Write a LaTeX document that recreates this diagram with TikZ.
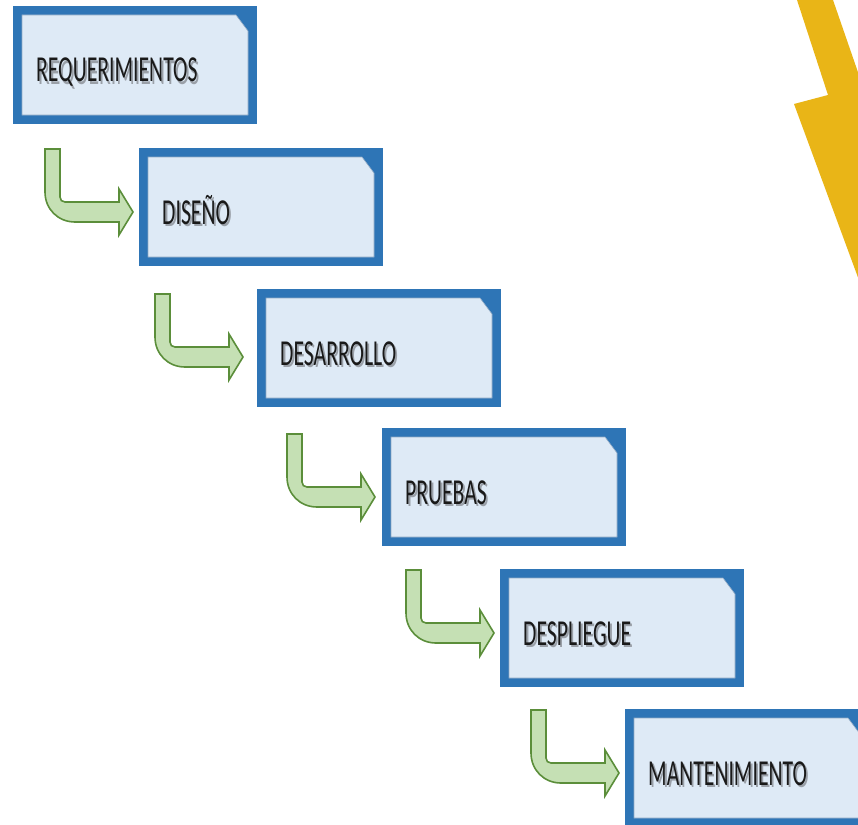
\documentclass[tikz,border=0pt]{standalone}
\usepackage{fontspec}
\setmainfont{Carlito}
\usetikzlibrary{calc}
\definecolor{boxblue}{HTML}{2E75B6}
\definecolor{boxfillc}{HTML}{DEEAF6}
\definecolor{edgeblue}{HTML}{8FA9C4}
\definecolor{arrowfillc}{HTML}{C5E0B4}
\definecolor{arrowline}{HTML}{5B8E3A}
\definecolor{boltc}{HTML}{E9B517}
\definecolor{shadowc}{HTML}{9AA0A8}
\tikzset{
  boxouter/.style={rectangle, fill=boxblue, draw=none, minimum width=244pt, minimum height=118pt, inner sep=0pt, outer sep=0pt},
  boxinner/.style={fill=boxfillc, draw=edgeblue, line width=0.6pt},
  stagelabel/.style={anchor=base west, inner sep=0pt, text=black!90},
  bentarrow/.style={fill=arrowfillc, draw=arrowline, line width=1.6pt, line join=miter},
  bolt/.style={fill=boltc, draw=none}
}
\newcommand\stagetxt[1]{\scalebox{0.7}[1.18]{\fontsize{31}{31}\selectfont #1}}
\newcommand\shadowtxt[1]{\makebox[0pt][l]{\hspace{1.8pt}\raisebox{-2.6pt}{\textcolor{shadowc}{\stagetxt{#1}}}}\stagetxt{#1}}
\newcommand\stagebox[4]{%
  \node[boxouter, anchor=north west] (#1) at (#2,#3) {};
  \filldraw[boxinner] ([shift={(9,9)}]#1.north west) -- ([shift={(-21,9)}]#1.north east) -- ([shift={(-9,25)}]#1.north east) -- ([shift={(-9,-9)}]#1.south east) -- ([shift={(9,-9)}]#1.south west) -- cycle;
  \node[stagelabel] (#1t) at ([shift={(23,76)}]#1.north west) {\shadowtxt{#4}};
}
\newcommand\greenarrow[3]{%
  \coordinate (#1) at (#2,#3);
  \draw[bentarrow] (#1) -- ++(15,0) -- ++(0,48) .. controls +(0,3) and +(-3,0) .. ++(5,5) -- ++(54,0) -- ++(0,-13) -- ++(14,23) -- ++(-14,23) -- ++(0,-13) -- ++(-44,0) .. controls +(-17,0) and +(0,17) .. ++(-30,-30) -- cycle;
}
\begin{document}
\begin{tikzpicture}[x=1pt,y=-1pt]
\useasboundingbox (0,0) rectangle (858,824);
\clip (0,0) rectangle (858,824);
\fill[white] (0,0) rectangle (858,824);
% lightning bolt
\fill[bolt] (797,0) -- (828,95) -- (794,104) -- (870,310) -- (870,107) -- (833,0) -- cycle;
% stages
\stagebox{req}{13}{6}{REQUERIMIENTOS}
\stagebox{dis}{139}{148}{DISEÑO}
\stagebox{des}{257}{289}{DESARROLLO}
\stagebox{pru}{382}{428}{PRUEBAS}
\stagebox{dep}{500}{569}{DESPLIEGUE}
\stagebox{man}{625}{709}{MANTENIMIENTO}
% arrows
\greenarrow{a1}{45}{149}
\greenarrow{a2}{155}{294}
\greenarrow{a3}{287}{434}
\greenarrow{a4}{406}{570}
\greenarrow{a5}{531}{710}
\end{tikzpicture}
\end{document}
